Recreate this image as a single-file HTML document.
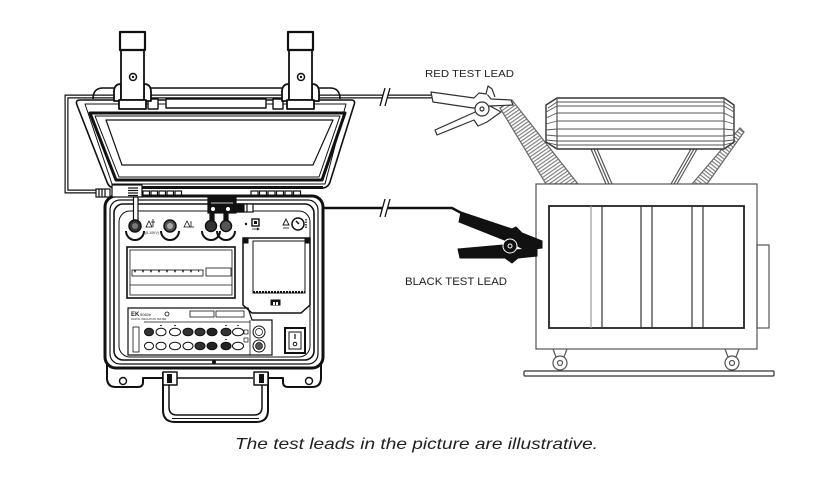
<!DOCTYPE html>
<html><head><meta charset="utf-8"><style>
html,body{margin:0;padding:0;background:#fff;}
svg{display:block;}
text{font-family:"Liberation Sans",Arial,sans-serif;fill:#222;}
</style></head><body>
<svg width="815" height="485" viewBox="0 0 815 485" xmlns="http://www.w3.org/2000/svg">
<defs>
<pattern id="h1" width="3" height="3" patternUnits="userSpaceOnUse" patternTransform="rotate(-35)">
<rect width="3" height="3" fill="#fff"/><line x1="0" y1="0.6" x2="3" y2="0.6" stroke="#777" stroke-width="1.1"/></pattern>
<pattern id="h2" width="3" height="3" patternUnits="userSpaceOnUse" patternTransform="rotate(38)">
<rect width="3" height="3" fill="#fff"/><line x1="0" y1="0.6" x2="3" y2="0.6" stroke="#777" stroke-width="1.1"/></pattern>
</defs>
<rect width="815" height="485" fill="#fff"/>

<!-- ===== TRANSFORMER ===== -->
<g stroke="#555" stroke-width="1.2" fill="none">
  <polygon points="500,108 512,100 578,184 546,184" fill="url(#h1)" stroke="#666"/>
  <polygon points="692,184 707,184 744,132 740,128" fill="url(#h2)" stroke="#666"/>
  <line x1="591" y1="149" x2="606" y2="184"/>
  <line x1="594" y1="149" x2="609" y2="184"/>
  <line x1="597" y1="149" x2="612" y2="184"/>
  <line x1="697" y1="149" x2="677" y2="184"/>
  <line x1="694" y1="149" x2="674" y2="184"/>
  <line x1="691" y1="149" x2="671" y2="184"/>
  <polygon points="557,98 724,98 734,105 734,142 724,149 557,149 546,142 546,105" fill="#fff" stroke="#333" stroke-width="1.4"/>
  <line x1="557" y1="98" x2="557" y2="149"/>
  <line x1="724" y1="98" x2="724" y2="149"/>
  <g stroke-width="0.9">
  <line x1="557" y1="102" x2="724" y2="102"/>
  <line x1="557" y1="106" x2="724" y2="106"/>
  <line x1="557" y1="113" x2="724" y2="113"/>
  <line x1="557" y1="121" x2="724" y2="121"/>
  <line x1="557" y1="129" x2="724" y2="129"/>
  <line x1="557" y1="136" x2="724" y2="136"/>
  <line x1="557" y1="141" x2="724" y2="141"/>
  <line x1="557" y1="145" x2="724" y2="145"/>
  <path d="M557,102 L548,108 M557,106 L546,112 M557,113 L546,118 M557,121 L546,124 M557,129 L546,130 M557,136 L546,135 M557,141 L546,140 M557,145 L549,143"/>
  <path d="M724,102 L733,108 M724,106 L734,112 M724,113 L734,118 M724,121 L734,124 M724,129 L734,130 M724,136 L734,135 M724,141 L734,140 M724,145 L731,143"/>
  </g>
  <rect x="536" y="184" width="221" height="165" fill="#fff"/>
  <rect x="757" y="245" width="12" height="83"/>
  <rect x="549" y="206" width="195" height="122" stroke="#222" stroke-width="1.8"/>
  <line x1="591" y1="206" x2="591" y2="328" stroke="#999"/>
  <line x1="602" y1="206" x2="602" y2="328" stroke="#333"/>
  <line x1="641" y1="206" x2="641" y2="328" stroke="#333"/>
  <line x1="652" y1="206" x2="652" y2="328" stroke="#333"/>
  <line x1="692" y1="206" x2="692" y2="328" stroke="#333"/>
  <line x1="703" y1="206" x2="703" y2="328" stroke="#333"/>
  <path d="M553,349 L556,357 M567,349 L564,357 M725,349 L728,357 M739,349 L736,357"/>
  <circle cx="560" cy="363" r="7" fill="#fff"/><circle cx="560" cy="363" r="2.5"/>
  <circle cx="732" cy="363" r="7" fill="#fff"/><circle cx="732" cy="363" r="2.5"/>
  <rect x="524" y="371" width="250" height="5" rx="1" stroke="#333"/>
</g>

<!-- ===== WIRES ===== -->
<path d="M97,191.5 L66.5,191.5 L66.5,96.5 L432,96.5" fill="none" stroke="#111" stroke-width="4"/>
<path d="M97,191.5 L66.5,191.5 L66.5,96.5 L432,96.5" fill="none" stroke="#fff" stroke-width="1.6"/>
<path d="M253,208 L452,208 L465,215" fill="none" stroke="#111" stroke-width="2.6"/>
<rect x="383" y="90" width="5" height="13" fill="#fff"/>
<rect x="383" y="202" width="5" height="12" fill="#fff"/>
<g stroke="#111" stroke-width="1.3">
<line x1="380" y1="106" x2="385" y2="88"/><line x1="385" y1="106" x2="390" y2="88"/>
<line x1="380" y1="217" x2="385" y2="199"/><line x1="385" y1="217" x2="390" y2="199"/>
</g>

<!-- ===== RED CLIP (outline) ===== -->
<g fill="#fff" stroke="#333" stroke-width="1.2" stroke-linejoin="round">
  <path d="M435,130 L437,135 L474,120 L478,126 L487,122 L501,112 L490,106 L473,113 Z"/>
  <path d="M431,92 L474,98 L479,93 L487,94 L491,99 L511,100 L513,105 L490,106 L473,108 L433,102 Z"/>
  <path d="M486,94 L488,86 L492,89 L495,97"/>
  <circle cx="482" cy="109" r="7"/>
  <circle cx="482" cy="109" r="2"/>
</g>

<!-- ===== BLACK CLIP ===== -->
<g fill="#111" stroke="#111" stroke-width="1">
  <path d="M458,249 L503,245 L510,250 L537,249 L537,256 L518,258 L512,263 L505,258 L460,258 Z"/>
  <path d="M461,212 L512,229 L516,227 L522,233 L542,241 L542,248 L525,250 L512,243 L459,222 Z"/>
  <circle cx="510" cy="246" r="7" stroke="#fff" stroke-width="1"/>
  <circle cx="510" cy="246" r="2" fill="none" stroke="#fff" stroke-width="1"/>
</g>

<!-- ===== LABELS ===== -->
<text x="425" y="77" font-size="10" textLength="89" lengthAdjust="spacingAndGlyphs">RED TEST LEAD</text>
<text x="405" y="285" font-size="11" textLength="102" lengthAdjust="spacingAndGlyphs">BLACK TEST LEAD</text>

<!-- ===== CASE: LID ===== -->
<g fill="none" stroke="#111" stroke-linejoin="round">
  <path d="M93,99 Q93,88 103,88 L330,88 Q340,88 340,99" stroke-width="1.6"/>
  <path d="M80,100 L351,100 Q356,100 354,105 L330,182 Q328,188 322,188 L115,188 Q109,188 107,182 L77,105 Q75,100 80,100 Z" fill="#fff" stroke-width="1.6"/>
  <path d="M85,104 L346,104 L325,184 L112,184 Z" stroke-width="1"/>
  <path d="M90,113 L345,113 L322,180 L116,180 Z" stroke-width="3"/>
  <path d="M95,116 L340,116 L319,177 L119,177 Z" stroke-width="1"/>
  <path d="M106,120 L333,120 L313,165 L122,165 Z" stroke-width="1.2"/>
  <rect x="148" y="99" width="10" height="10" fill="#fff" stroke-width="1.4"/>
  <rect x="166" y="99" width="100" height="9" fill="#fff" stroke-width="1.4"/>
  <rect x="273" y="99" width="10" height="10" fill="#fff" stroke-width="1.4"/>
</g>

<!-- latches -->
<g id="latch" fill="#fff" stroke="#111" stroke-width="1.8" stroke-linejoin="round">
  <path d="M121,84 Q114,84 114,92 L114,101 L121,101 Z"/>
  <path d="M144,84 Q151,84 151,92 L151,101 L144,101 Z"/>
  <rect x="121" y="50" width="23" height="50"/>
  <rect x="120" y="32" width="25" height="18" stroke-width="2.2"/>
  <rect x="119" y="100" width="27" height="9"/>
  <circle cx="133" cy="77" r="3.5" stroke-width="1.5"/>
  <circle cx="133" cy="77" r="1.2" fill="#111" stroke="none"/>
</g>
<use href="#latch" transform="translate(168,0)"/>

<!-- ===== HINGE STRIP ===== -->
<rect x="142" y="186" width="181" height="3" fill="#111"/>
<g fill="#fff" stroke="#111" stroke-width="1.2">
  <rect x="143" y="191" width="6.5" height="6"/><rect x="151" y="191" width="6.5" height="6"/><rect x="159" y="191" width="6.5" height="6"/><rect x="167" y="191" width="6.5" height="6"/><rect x="175" y="191" width="6.5" height="6"/>
  <rect x="251" y="191" width="7" height="6"/><rect x="259.5" y="191" width="7" height="6"/><rect x="268" y="191" width="7" height="6"/><rect x="276.5" y="191" width="7" height="6"/><rect x="285" y="191" width="7" height="6"/><rect x="293.5" y="191" width="7" height="6"/>
</g>

<!-- ===== CASE: BODY ===== -->
<g fill="none" stroke="#111" stroke-linejoin="round">
  <path d="M107,360 L107,378 Q107,387 116,387 L138,387 Q143,387 143,382 L143,378 L163,378" stroke-width="2"/>
  <path d="M321,360 L321,378 Q321,387 312,387 L288,387 Q283,387 283,382 L283,378 L268,378" stroke-width="2"/>
  <line x1="177" y1="378" x2="253" y2="378" stroke-width="1.5"/>
  <circle cx="123" cy="381" r="3.5" stroke-width="1.4"/>
  <circle cx="309" cy="381" r="3.5" stroke-width="1.4"/>
  <path d="M163,372 L163,410 Q163,422 175,422 L256,422 Q268,422 268,410 L268,372" stroke-width="2"/>
  <path d="M169,385 L169,407 Q169,415 177,415 L254,415 Q262,415 262,407 L262,385" stroke-width="1.5"/>
  <line x1="172" y1="418.5" x2="259" y2="418.5" stroke-width="1"/>
  <rect x="163" y="372" width="14" height="13" fill="#fff" stroke-width="1.5"/>
  <rect x="254" y="372" width="14" height="13" fill="#fff" stroke-width="1.5"/>
  <rect x="167" y="374" width="5" height="9" fill="#111" stroke="none"/>
  <rect x="259" y="374" width="5" height="9" fill="#111" stroke="none"/>
  <rect x="105" y="196" width="218" height="172" rx="11" fill="#fff" stroke-width="3"/>
  <rect x="110" y="200" width="208" height="164" rx="10" stroke-width="1.2"/>
  <rect x="114" y="204" width="200" height="156" rx="9" stroke-width="1.6"/>
  <rect x="119" y="211" width="191" height="146" rx="11" stroke-width="1"/>
  <circle cx="214" cy="362" r="1.5" fill="#111"/>
</g>

<!-- connectors at hinge -->
<g stroke="#111" stroke-width="1.2">
  <rect x="112" y="185" width="30" height="12" fill="#fff"/>
  <line x1="128" y1="188" x2="138" y2="188"/><line x1="128" y1="190.5" x2="138" y2="190.5"/><line x1="128" y1="193" x2="138" y2="193"/><line x1="128" y1="195.5" x2="138" y2="195.5"/>
  <rect x="96" y="189" width="14" height="8" fill="#fff"/>
  <line x1="99" y1="189" x2="99" y2="197"/><line x1="102" y1="189" x2="102" y2="197"/><line x1="105" y1="189" x2="105" y2="197"/>
  <rect x="133.5" y="197" width="4.5" height="24" fill="#fff"/>
  <rect x="208" y="198" width="28" height="15" fill="#111"/>
  <line x1="211" y1="203" x2="233" y2="203" stroke="#fff" stroke-width="0.8"/>
  <rect x="210" y="212" width="4" height="10" fill="#111"/>
  <rect x="224" y="212" width="4" height="10" fill="#111"/>
  <circle cx="213" cy="209" r="2" fill="#fff" stroke="none"/>
  <circle cx="228" cy="209" r="2" fill="#fff" stroke="none"/>
  <rect x="237" y="204" width="16" height="8" fill="#fff"/>
  <rect x="238" y="204" width="3" height="8" fill="#111"/>
  <rect x="242" y="204" width="2" height="8" fill="#111"/>
  <line x1="247" y1="204" x2="247" y2="212"/>
</g>

<!-- terminal row -->
<g stroke="#111" fill="none">
  <path d="M126,231 A9 9 0 0 0 144,231" stroke-width="2"/>
  <circle cx="135" cy="226" r="6" fill="#333" stroke-width="1.5"/>
  <circle cx="135" cy="226" r="3" fill="#777" stroke="none"/>
  <path d="M161,231 A9 9 0 0 0 179,231" stroke-width="2"/>
  <circle cx="170" cy="226" r="6" fill="#555" stroke-width="1.5"/>
  <circle cx="170" cy="226" r="3" fill="#aaa" stroke="none"/>
  <path d="M202,231 A9 9 0 0 0 220,231" stroke-width="2"/>
  <path d="M217,231 A9 9 0 0 0 235,231" stroke-width="2"/>
  <circle cx="211" cy="226" r="5.5" fill="#333" stroke-width="1.5"/>
  <circle cx="226" cy="226" r="5.5" fill="#555" stroke-width="1.5"/>
  <path d="M146,227 L149,221 L152,227 Z M153,219 L153,227 M151,222 L155,222" stroke-width="0.8"/>
  <path d="M184,227 L187,221 L190,227 Z M191,221 L191,227 L194,227" stroke-width="0.8"/>
  <text x="145" y="234" font-size="3.5" stroke="none">(5-10KV)</text>
  <circle cx="246" cy="224" r="1.2" fill="#111" stroke="none"/>
  <rect x="252" y="219" width="7" height="7" stroke-width="1.4"/>
  <rect x="254" y="221" width="3" height="3" fill="#111" stroke="none"/>
  <path d="M252,229 L259,229 M257,228 L259,229 L257,230" stroke-width="0.8"/>
  <path d="M283,225 L286,219 L289,225 Z" stroke-width="0.9"/>
  <line x1="283" y1="228" x2="289" y2="228" stroke-width="0.8"/>
  <circle cx="298" cy="224" r="6" stroke-width="1.5"/>
  <path d="M296,221 L299,224" stroke-width="1.5"/>
  <path d="M306,219 L306,229" stroke-width="1.4" stroke-dasharray="1.5 1"/>
</g>

<!-- display -->
<g fill="none" stroke="#111">
  <rect x="127" y="247" width="108" height="51" stroke-width="1.6"/>
  <rect x="130" y="250" width="102" height="45" stroke-width="0.8"/>
  <line x1="130" y1="285" x2="232" y2="285" stroke-width="0.8"/>
  <rect x="132" y="270" width="71" height="6" stroke-width="0.8"/>
  <rect x="206" y="268" width="25" height="8" stroke-width="0.8"/>
  <path d="M134,270 l1,2 l1,-2 M142,270 l1,2 l1,-2 M150,270 l1,2 l1,-2 M158,270 l1,2 l1,-2 M166,270 l1,2 l1,-2 M174,270 l1,2 l1,-2 M182,270 l1,2 l1,-2 M190,270 l1,2 l1,-2 M198,270 l1,2" stroke-width="0.8"/>
</g>

<!-- printer -->
<g fill="none" stroke="#111">
  <path d="M243,238 L310,238 L310,305 L301,313 L252,313 L243,305 Z" stroke-width="1.5"/>
  <rect x="253" y="241" width="52" height="52" stroke-width="1"/>
  <rect x="244" y="239" width="4" height="4" fill="#111"/>
  <rect x="305" y="239" width="4" height="4" fill="#111"/>
  <line x1="253" y1="292" x2="305" y2="292" stroke-width="2" stroke-dasharray="2 1"/>
  <rect x="271" y="300" width="9" height="5" fill="#111"/>
  <rect x="273" y="302" width="2" height="3" fill="#fff" stroke="none"/>
  <rect x="276" y="302" width="2" height="3" fill="#fff" stroke="none"/>
</g>

<!-- keypad -->
<g fill="none" stroke="#111">
  <path d="M128,308 L248,308 L252,320 L272,320 L272,355 L128,355 Z" stroke-width="1.2"/>
  <line x1="144" y1="322" x2="250" y2="322" stroke-width="0.8"/>
  <line x1="250" y1="320" x2="250" y2="355" stroke-width="0.8"/>
  <rect x="133" y="327" width="6" height="25" stroke-width="0.8"/>
  <text x="131" y="316" font-size="6" font-weight="bold" fill="#111" stroke="none">EK</text>
  <text x="140" y="316" font-size="4" fill="#333" stroke="none">5060e</text>
  <text x="131" y="320" font-size="2.5" fill="#333" stroke="none">DIGITAL INSULATION TESTER</text>
  <circle cx="167" cy="314" r="2" stroke-width="0.8"/>
  <rect x="190" y="311" width="24" height="6" stroke-width="0.8"/>
  <rect x="216" y="311" width="28" height="6" stroke-width="0.8"/>
  <g stroke-width="1">
    <ellipse cx="149" cy="332" rx="4.5" ry="3.8" fill="#333"/>
    <ellipse cx="161" cy="332" rx="5" ry="3.8"/>
    <ellipse cx="175" cy="332" rx="5.5" ry="3.8"/>
    <ellipse cx="188" cy="332" rx="5" ry="3.8" fill="#333"/>
    <ellipse cx="200" cy="332" rx="5" ry="3.8" fill="#333"/>
    <ellipse cx="212" cy="332" rx="5" ry="3.8" fill="#222"/>
    <ellipse cx="226" cy="332" rx="5" ry="3.8" fill="#333"/>
    <ellipse cx="238" cy="332" rx="5.5" ry="3.8"/>
    <ellipse cx="149" cy="346" rx="4.5" ry="3.8"/>
    <ellipse cx="161" cy="346" rx="5" ry="3.8"/>
    <ellipse cx="175" cy="346" rx="5.5" ry="3.8"/>
    <ellipse cx="188" cy="346" rx="5" ry="3.8"/>
    <ellipse cx="200" cy="346" rx="5" ry="3.8" fill="#333"/>
    <ellipse cx="212" cy="346" rx="5" ry="3.8" fill="#222"/>
    <ellipse cx="226" cy="346" rx="5" ry="3.8" fill="#222"/>
    <ellipse cx="238" cy="346" rx="5.5" ry="3.8"/>
    <circle cx="259" cy="332" r="6"/><circle cx="259" cy="332" r="3.5" stroke-width="0.7"/>
    <circle cx="259" cy="346" r="6"/><circle cx="259" cy="346" r="3.5" fill="#555" stroke-width="0.7"/>
  </g>
  <path d="M161,325 v1 M175,325 v1 M226,325 v1 M238,325 v1 M226,339 v1" stroke-width="1.5"/>
  <rect x="244" y="330" width="4" height="4" stroke-width="0.7"/>
  <rect x="244" y="338" width="4" height="4" stroke-width="0.7"/>
  <rect x="285" y="328" width="20" height="25" stroke-width="2"/>
  <rect x="289" y="332" width="12" height="17" stroke-width="1"/>
  <line x1="295" y1="334" x2="295" y2="339" stroke-width="1.2"/>
  <circle cx="295" cy="344" r="1.8" stroke-width="1"/>
</g>

<!-- caption -->
<text x="235" y="449" font-size="16" font-style="italic" textLength="363" lengthAdjust="spacingAndGlyphs">The test leads in the picture are illustrative.</text>
</svg>
</body></html>
